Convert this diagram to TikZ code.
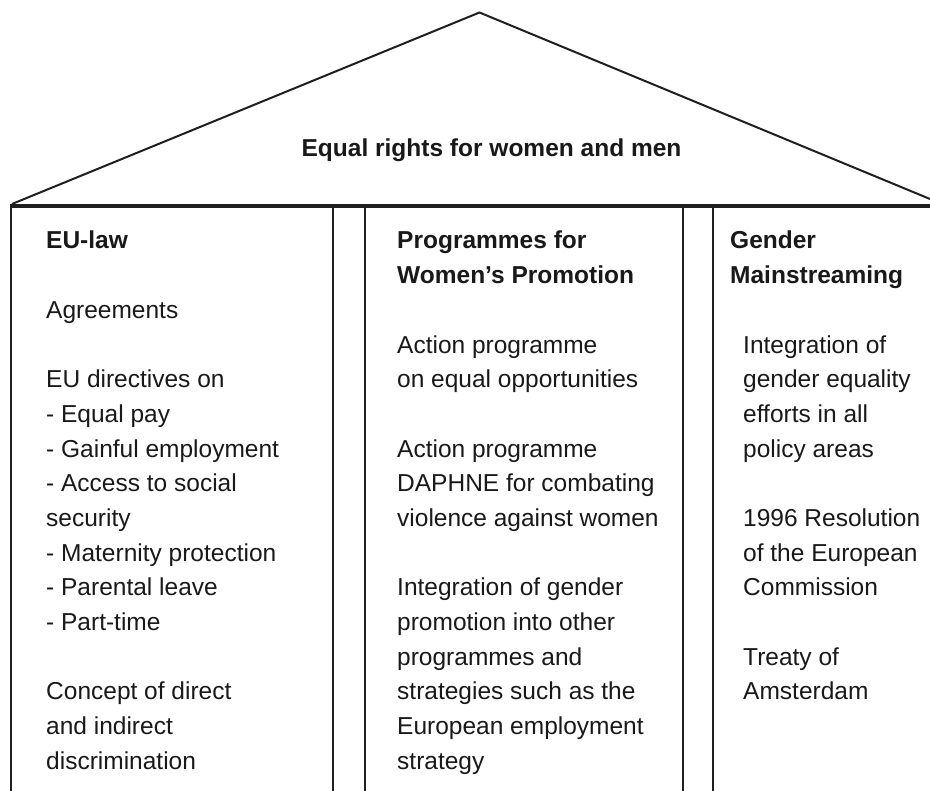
\documentclass[tikz,border=0pt]{standalone}
\usepackage{fontspec}
\setmainfont{Liberation Sans}
\begin{document}
\begin{tikzpicture}[x=1pt,y=-1pt,
  ink/.style={draw=black!88},
  roofline/.style={ink,line width=2pt,line join=miter},
  beam/.style={ink,line width=4pt},
  pillar/.style={ink,line width=2.2pt},
  txt/.style={anchor=base west,inner sep=0pt,text=black!90,
    font=\fontsize{24.5}{34.67}\selectfont},
  head/.style={txt,font=\fontsize{24.5}{34.67}\selectfont\bfseries}]
\useasboundingbox (0,0) rectangle (930,791);

% roof
\coordinate (apex)  at (479.5,12.5);
\coordinate (eaveL) at (12,204);
\coordinate (eaveR) at (930,199);
\draw[roofline] (eaveL) -- (apex) -- (eaveR);
\node[head,anchor=base] (title) at (491.5,157) {Equal rights for women and men};

% beam under the roof
\coordinate (beamL) at (10,206);
\coordinate (beamR) at (930,206);
\draw[beam] (beamL) -- (beamR);

% pillars
\foreach \px [count=\i] in {11,333.3,365,682.7,713.3}{
  \coordinate (ptop\i) at (\px,206);
  \coordinate (pbot\i) at (\px,791);
  \draw[pillar] (ptop\i) -- (pbot\i);
}

% left column: EU-law
\node[head] (law0) at (46,249) {EU-law};
\foreach \k/\t in {2/Agreements,4/EU directives on,5/- Equal pay,
    6/- Gainful employment,7/- Access to social,8/security,
    9/- Maternity protection,10/- Parental leave,11/- Part-time,
    13/Concept of direct,14/and indirect,15/discrimination}
  \node[txt] (law\k) at (46,{249+34.67*\k}) {\t};

% middle column: programmes
\node[head] (prog0) at (397,249) {Programmes for};
\node[head] (prog1) at (397,{249+34.67}) {Women’s Promotion};
\foreach \k/\t in {3/Action programme,4/on equal opportunities,
    6/Action programme,7/DAPHNE for combating,8/violence against women,
    10/Integration of gender,11/promotion into other,12/programmes and,
    13/strategies such as the,14/European employment,15/strategy}
  \node[txt] (prog\k) at (397,{249+34.67*\k}) {\t};

% right column: gender mainstreaming
\node[head] (gm0) at (730,249) {Gender};
\node[head] (gm1) at (730,{249+34.67}) {Mainstreaming};
\foreach \k/\t in {3/Integration of,4/gender equality,5/efforts in all,
    6/policy areas,8/1996 Resolution,9/of the European,10/Commission,
    12/Treaty of,13/Amsterdam}
  \node[txt] (gm\k) at (743,{249+34.67*\k}) {\t};
\end{tikzpicture}
\end{document}
